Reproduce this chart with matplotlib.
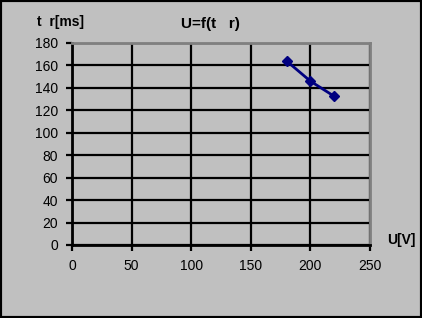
import matplotlib
matplotlib.use("Agg")
import matplotlib.pyplot as plt

# measured points
u_volts = [180, 200, 220]
t_ms = [164, 146, 132.5]
x_ticks = [0, 50, 100, 150, 200, 250]
y_ticks = [0, 20, 40, 60, 80, 100, 120, 140, 160, 180]

plt.rcParams["font.family"] = ["Liberation Sans", "DejaVu Sans"]
BG = "#c0c0c0"

fig = plt.figure(figsize=(4.22, 3.18), dpi=100, facecolor=BG)
ax = fig.add_axes([72 / 422, 1 - 245 / 318, 298 / 422, 202 / 318], facecolor=BG)

ax.set_xlim(0, 250)
ax.set_ylim(0, 180)
ax.set_xticks(x_ticks)
ax.set_yticks(y_ticks)
ax.grid(True, color="black", lw=1.6)
ax.set_axisbelow(True)

for side in ("top", "right"):
    ax.spines[side].set_color("#808080")
    ax.spines[side].set_linewidth(2)
for side in ("left", "bottom"):
    ax.spines[side].set_color("black")
    ax.spines[side].set_linewidth(2)
ax.tick_params(direction="out", length=4, width=1.6, labelsize=10, pad=6)

ax.plot(u_volts, t_ms, color="#000080", lw=2, marker="D", ms=5.5, clip_on=False)

fig.text(210 / 422, 1 - 24 / 318, "U=f(t   r)", ha="center", va="center",
         fontsize=11, fontweight="bold")
fig.text(37 / 422, 1 - 22 / 318, "t  r[ms]", ha="left", va="center",
         fontsize=10, fontweight="bold")
fig.text(387 / 422, 1 - 240 / 318, "U[V]", ha="left", va="center",
         fontsize=10, fontweight="bold")

# outer frame
fig.patches.append(plt.Rectangle((0, 0), 1, 1, transform=fig.transFigure,
                                 fill=False, edgecolor="black", lw=3))

fig.savefig("out.png", dpi=100, facecolor=BG)
